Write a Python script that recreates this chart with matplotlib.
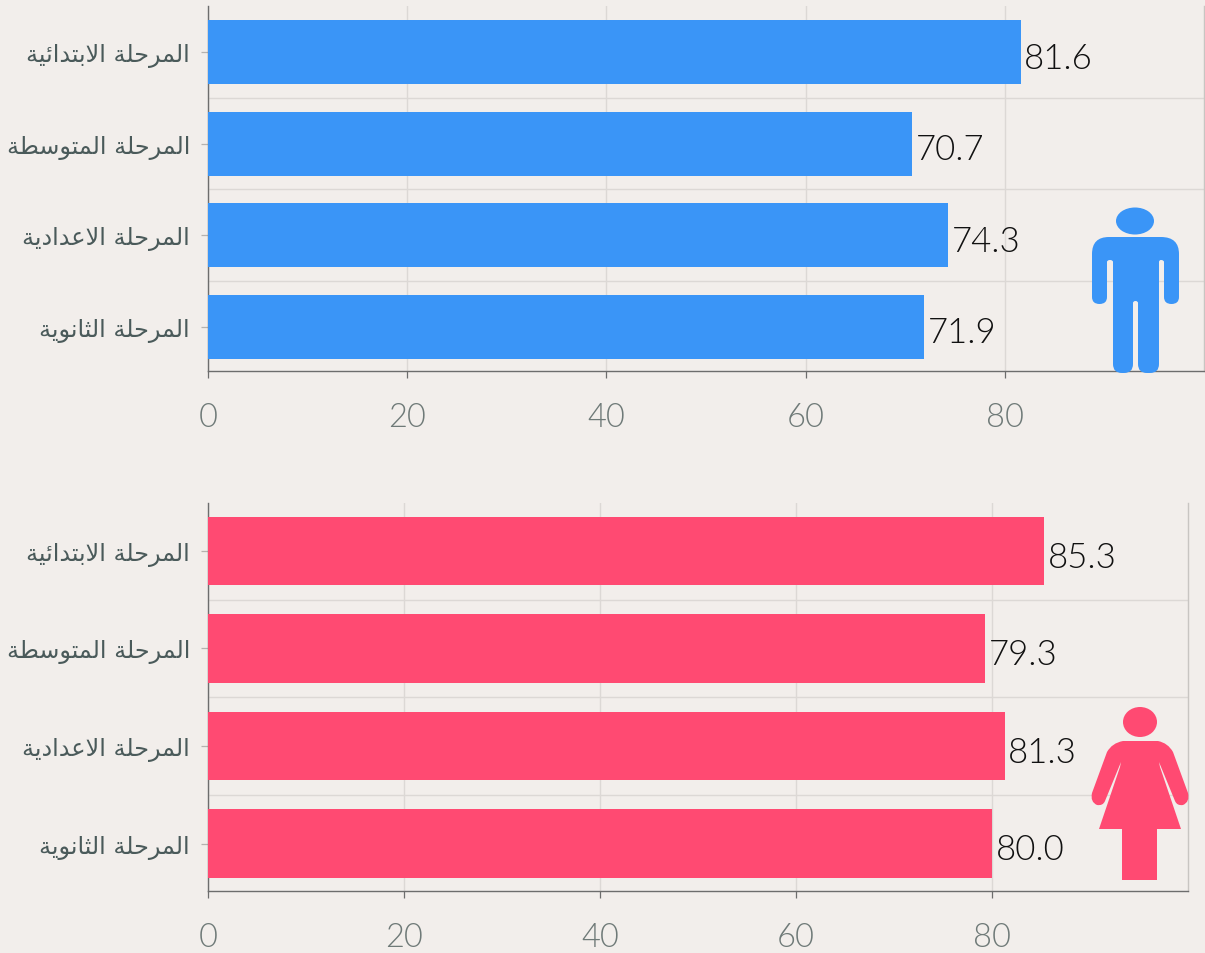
import matplotlib
matplotlib.use("Agg")
import matplotlib.pyplot as plt
from matplotlib.patches import Ellipse, PathPatch
from matplotlib.path import Path

# ---- data -----------------------------------------------------------------
stages = ["المرحلة الابتدائية", "المرحلة المتوسطة", "المرحلة الاعدادية", "المرحلة الثانوية"]
male_values = [81.6, 70.7, 74.3, 71.9]
female_values = [85.3, 79.3, 81.3, 80.0]
x_ticks = [0, 20, 40, 60, 80]

BG = "#f2eeeb"
BLUE = "#3a95f7"
PINK = "#ff4a72"
GRID = "#dcd8d5"
AXIS = "#6d6d6d"

# ---- minimal Arabic shaping (matplotlib draws no joined forms by itself) ----
FORMS = {  # isolated, final, initial, medial
    "ا": "ﺍﺎ", "ب": "ﺏﺐﺑﺒ", "ت": "ﺕﺖﺗﺘ", "ث": "ﺙﺚﺛﺜ", "ح": "ﺡﺢﺣﺤ", "د": "ﺩﺪ", "ر": "ﺭﺮ",
    "س": "ﺱﺲﺳﺴ", "ط": "ﻁﻂﻃﻄ", "ع": "ﻉﻊﻋﻌ", "ل": "ﻝﻞﻟﻠ", "م": "ﻡﻢﻣﻤ", "ن": "ﻥﻦﻧﻨ",
    "ة": "ﺓﺔ", "و": "ﻭﻮ", "ي": "ﻱﻲﻳﻴ", "ئ": "ﺉﺊﺋﺌ",
}


def shape(text):
    words = []
    for word in text.split(" "):
        out = []
        i, joined = 0, False
        while i < len(word):
            ch = word[i]
            if ch == "ل" and i + 1 < len(word) and word[i + 1] == "ا":
                out.append("ﻼ" if joined else "ﻻ")
                i, joined = i + 2, False
                continue
            f = FORMS[ch]
            dual = len(f) == 4
            nxt = i + 1 < len(word) and dual
            if joined and nxt:
                out.append(f[3])
            elif joined:
                out.append(f[1])
            elif nxt:
                out.append(f[2])
            else:
                out.append(f[0])
            joined = nxt
            i += 1
        words.append("".join(reversed(out)))
    return " ".join(reversed(words))


plt.rcParams["font.family"] = ["DejaVu Sans"]
W, H = 1205, 954
fig = plt.figure(figsize=(W / 100, H / 100), dpi=100, facecolor=BG)


def panel(left, right, top, bottom, vals, color, ylim):
    ax = fig.add_axes([left / W, 1 - bottom / H, (right - left) / W, (bottom - top) / H])
    ax.set_facecolor(BG)
    ax.barh(range(4), vals, height=0.70, color=color, zorder=3)
    ax.set_xlim(0, 100)
    ax.set_ylim(*ylim)
    ax.set_yticks(range(4), [shape(s) for s in stages], fontsize=17.2, color="#4a5a5a")
    ax.set_xticks(x_ticks, [str(t) for t in x_ticks], fontsize=23.5, color="#6f7a78",
                  fontfamily="Lato", fontweight=300)
    ax.tick_params(axis="y", length=5, width=0.9, color="#b5b2af", pad=8)
    ax.tick_params(axis="x", length=5, width=0.9, color=AXIS, pad=17.5)
    ax.set_axisbelow(True)
    ax.grid(axis="x", color=GRID, lw=1)
    for g in (0.5, 1.5, 2.5):
        ax.axhline(g, color=GRID, lw=1, zorder=1)
    ax.spines["top"].set_visible(False)
    ax.spines["right"].set_color("#c8c5c2")
    ax.spines["right"].set_linewidth(1)
    for s in ("left", "bottom"):
        ax.spines[s].set_color(AXIS)
        ax.spines[s].set_linewidth(1)
    for i, v in enumerate(vals):
        ax.annotate(f"{v:.1f}", (v, i), xytext=(2.5, -4), textcoords="offset points",
                    va="center", ha="left", fontsize=25, color="#111111",
                    fontfamily="Lato", fontweight=300, zorder=4)
    return ax


panel(208, 1204, 7, 372, male_values, BLUE, (3.483, -0.502))
panel(208, 1188, 504, 892, female_values, PINK, (3.487, -0.492))

# pictograms in figure pixel coordinates
ov = fig.add_axes([0, 0, 1, 1], facecolor="none")
ov.set_xlim(0, W)
ov.set_ylim(H, 0)
ov.axis("off")

M, L, Q, Z = Path.MOVETO, Path.LINETO, Path.CURVE3, Path.CLOSEPOLY


def draw(cmds, color):
    verts, codes = [], []
    for c in cmds:
        if c[0] == "M":
            verts.append(c[1]); codes.append(M)
        elif c[0] == "L":
            verts.append(c[1]); codes.append(L)
        elif c[0] == "Q":
            verts += [c[1], c[2]]; codes += [Q, Q]
    verts.append(verts[0]); codes.append(Z)
    ov.add_patch(PathPatch(Path(verts, codes), fc=color, ec="none"))


# male figure
ov.add_patch(Ellipse((1135, 222), 38, 27, fc=BLUE, ec="none"))
draw([
    ("M", (1109, 238)), ("L", (1161, 238)), ("Q", (1179, 238), (1179, 255)),
    ("L", (1179, 298)), ("Q", (1179, 305), (1171.5, 305)), ("Q", (1164, 305), (1164, 298)),
    ("L", (1164, 263)), ("Q", (1164, 261), (1161, 261)), ("Q", (1159, 261), (1159, 263)),
    ("L", (1159, 365)), ("Q", (1159, 374), (1150, 374)), ("L", (1147, 374)),
    ("Q", (1138, 374), (1138, 365)), ("L", (1138, 304)), ("Q", (1138, 302), (1135.5, 302)),
    ("Q", (1133, 302), (1133, 304)), ("L", (1133, 365)), ("Q", (1133, 374), (1124, 374)),
    ("L", (1122, 374)), ("Q", (1113, 374), (1113, 365)), ("L", (1113, 263)),
    ("Q", (1113, 261), (1110, 261)), ("Q", (1107, 261), (1107, 263)), ("L", (1107, 298)),
    ("Q", (1107, 305), (1099.5, 305)), ("Q", (1092, 305), (1092, 298)), ("L", (1092, 255)),
    ("Q", (1092, 238), (1109, 238)),
], BLUE)

# female figure
ov.add_patch(Ellipse((1140, 723), 34, 30, fc=PINK, ec="none"))
draw([
    ("M", (1123, 742)), ("L", (1158, 742)), ("Q", (1168, 744), (1173, 753)),
    ("L", (1188, 794)), ("Q", (1190, 803), (1183, 806)), ("Q", (1177, 807), (1175, 802)),
    ("L", (1159, 763)), ("L", (1160, 768)), ("L", (1181, 830)), ("L", (1157, 830)),
    ("L", (1157, 881)), ("L", (1122, 881)), ("L", (1122, 830)), ("L", (1099, 830)),
    ("L", (1120, 768)), ("L", (1121, 763)), ("L", (1105, 802)), ("Q", (1103, 807), (1097, 806)),
    ("Q", (1090, 803), (1092, 794)), ("L", (1107, 753)), ("Q", (1112, 744), (1123, 742)),
], PINK)

fig.savefig("out.png", dpi=100, facecolor=BG)
